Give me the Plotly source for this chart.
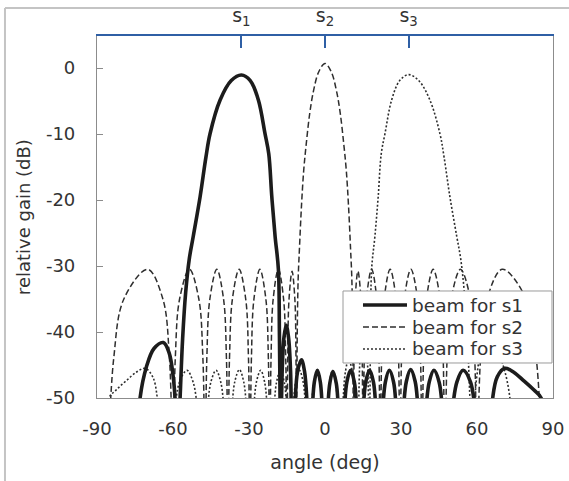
import plotly.graph_objects as go

# ---- data ----
x_ticks = [-90, -60, -30, 0, 30, 60, 90]
y_ticks = [0, -10, -20, -30, -40, -50]
steer_angles = [-33, 0, 33]
steer_labels = ["s<sub>1</sub>", "s<sub>2</sub>", "s<sub>3</sub>"]
series_names = ["beam for s1", "beam for s2", "beam for s3"]

s1_angle = [-74.5, -73.0, -70.5, -67.5, -63.8, -61.5, -60.0, -59.2, -58.3,
            -57.2, -56.2, -55.0, -53.6, -52.0, -49.3, -47.0, -45.4, -41.4, -37.0, -33.0,
            -29.5, -26.3, -23.7, -22.2, -21.0, -19.7, -18.4, -18.0, -17.75, -17.6,
            -16.9, -16.2, -15.3, -14.4, -13.6, -12.9,
            -11.86, -10.83, -9.3, -8.07, -7.04, -6.0,
            -5.11, -4.21, -3.0, -1.84, -0.94, -0.05,
            0.92, 1.89, 3.1, 4.46, 5.43, 6.4,
            7.51, 8.62, 10.1, 11.58, 12.69, 13.8,
            14.94, 16.08, 17.6, 19.12, 20.26, 21.4,
            22.62, 23.83, 25.4, 27.07, 28.28, 29.5,
            30.81, 32.11, 33.8, 35.59, 36.89, 38.2,
            39.67, 41.14, 43.0, 45.06, 46.53, 48.0,
            50.03, 52.05, 54.5, 57.45, 59.47, 61.5,
            64.8, 66.2, 68.0, 71.0, 74.5, 78.5, 82.5, 85.3, 86.8, 88.0]
s1_gain = [-60, -50, -45.3, -42.5, -41.6, -43.2, -46.5, -50, -60,
           -50, -41, -34, -29, -25.5, -19.5, -13.5, -10.0, -4.85, -1.9, -1.05,
           -1.9, -4.85, -9.9, -13.0, -19.5, -25.5, -30.5, -40, -50, -60,
           -45.9, -40.8, -39.0, -40.8, -45.9, -60,
           -51.1, -46.0, -44.2, -46.0, -51.1, -60,
           -52.7, -47.6, -45.8, -47.6, -52.7, -60,
           -52.9, -47.8, -46.0, -47.8, -52.9, -60,
           -52.7, -47.6, -45.8, -47.6, -52.7, -60,
           -52.7, -47.6, -45.8, -47.6, -52.7, -60,
           -52.7, -47.6, -45.8, -47.6, -52.7, -60,
           -52.6, -47.5, -45.7, -47.5, -52.6, -60,
           -52.7, -47.6, -45.8, -47.6, -52.7, -60,
           -52.7, -47.6, -45.8, -47.6, -52.7, -60,
           -60, -50, -46.8, -45.5, -46.1, -47.4, -48.8, -50, -55, -60]

s2_angle = [-85.6, -83.4, -79.4, -70.0, -64.0, -61.4, -60.0,
            -59.1, -57.4, -53.5, -49.8, -48.2, -47.3,
            -46.65, -45.45, -42.7, -40.05, -38.9, -38.3,
            -37.7, -36.55, -33.9, -31.3, -30.2, -29.6,
            -29.05, -28.05, -25.7, -23.35, -22.35, -21.8,
            -21.3, -20.45, -18.4, -16.35, -15.5, -15.0,
            -14.7, -14.2, -13.0, -11.9, -11.45, -11.2,
            -11.0, -10.6, -10.1, -9.3, -8.4, -7.4, -6.0, -4.5, -2.5, 0.0,
            2.5, 4.5, 6.0, 7.4, 8.4, 9.3, 10.1, 10.6, 11.0,
            11.2, 11.45, 11.9, 13.0, 14.2, 14.7, 15.0,
            15.5, 16.35, 18.4, 20.45, 21.3, 21.8,
            22.35, 23.35, 25.7, 28.05, 29.05, 29.6,
            30.2, 31.3, 33.9, 36.55, 37.7, 38.3,
            38.9, 40.05, 42.7, 45.45, 46.65, 47.3,
            48.2, 49.8, 53.5, 57.4, 59.1, 60.0,
            61.4, 64.0, 70.0, 79.4, 83.4, 85.6]
s2_gain = [-60, -44, -35, -30.5, -35, -44, -60,
           -44, -35, -30.5, -35, -44, -60,
           -44, -35, -30.5, -35, -44, -60,
           -44, -35, -30.5, -35, -44, -60,
           -44, -35, -30.5, -35, -44, -60,
           -44, -35, -30.5, -35, -44, -60,
           -44, -35, -30.8, -35, -44, -60,
           -42, -32, -27.5, -21, -15.5, -11.5, -6.8, -3.4, -0.6, 0.7,
           -0.6, -3.4, -6.8, -11.5, -15.5, -21, -27.5, -32, -42,
           -60, -44, -35, -30.8, -35, -44, -60,
           -44, -35, -30.5, -35, -44, -60,
           -44, -35, -30.5, -35, -44, -60,
           -44, -35, -30.5, -35, -44, -60,
           -44, -35, -30.5, -35, -44, -60,
           -44, -35, -30.5, -35, -44, -60,
           -44, -35, -30.5, -35, -44, -60]

s3_angle = [-88.0, -86.8, -85.3, -82.5, -78.5, -74.5, -71.0, -68.0, -66.2, -64.8,
            -61.5, -59.47, -57.45, -54.5, -52.05, -50.03, -48.0,
            -46.53, -45.06, -43.0, -41.14, -39.67, -38.2,
            -36.89, -35.59, -33.8, -32.11, -30.81, -29.5,
            -28.28, -27.07, -25.4, -23.83, -22.62, -21.4,
            -20.26, -19.12, -17.6, -16.08, -14.94, -13.8,
            -12.69, -11.58, -10.1, -8.62, -7.51, -6.4,
            -5.43, -4.46, -3.1, -1.89, -0.92, 0.05,
            0.94, 1.84, 3.0, 4.21, 5.11, 6.0,
            7.04, 8.07, 9.3, 10.83, 11.86, 12.9,
            13.6, 14.4, 15.3, 16.2, 16.9, 17.6,
            17.75, 18.0, 18.4, 19.7, 21.0, 22.2, 23.7, 26.3, 29.5,
            33.0, 37.0, 41.4, 45.4, 47.0, 49.3, 52.0, 53.6, 55.0, 56.2, 57.2,
            58.3, 59.2, 60.0, 61.5, 63.8, 67.5, 70.5, 73.0, 74.5]
s3_gain = [-60, -55, -50, -48.8, -47.4, -46.1, -45.5, -46.8, -50, -60,
           -60, -52.7, -47.6, -45.8, -47.6, -52.7, -60,
           -52.7, -47.6, -45.8, -47.6, -52.7, -60,
           -52.6, -47.5, -45.7, -47.5, -52.6, -60,
           -52.7, -47.6, -45.8, -47.6, -52.7, -60,
           -52.7, -47.6, -45.8, -47.6, -52.7, -60,
           -52.7, -47.6, -45.8, -47.6, -52.7, -60,
           -52.9, -47.8, -46.0, -47.8, -52.9, -60,
           -52.7, -47.6, -45.8, -47.6, -52.7, -60,
           -51.1, -46.0, -44.2, -46.0, -51.1, -60,
           -45.9, -40.8, -39.0, -40.8, -45.9, -60,
           -50, -40, -30.5, -25.5, -19.5, -13.0, -9.9, -4.85, -1.9,
           -1.0, -1.9, -4.85, -10.0, -13.5, -19.5, -25.5, -29, -34, -41, -50,
           -60, -50, -46.5, -43.2, -41.6, -42.5, -45.3, -50, -60]

# ---- styling ----
FONT = "DejaVu Sans"
TXT = "#333333"
AX = "#8c8c8c"
BLUE = "#2f5fa5"
line_styles = [
    dict(color="#1c1c1c", width=3.6),
    dict(color="#2e2e2e", width=1.5, dash="6px,3px"),
    dict(color="#2e2e2e", width=1.6, dash="2px,2px"),
]
series = [(s1_angle, s1_gain), (s2_angle, s2_gain), (s3_angle, s3_gain)]

fig = go.Figure()
# draw s3, s2 first so the thick s1 beam sits on top
for i in [2, 1, 0]:
    ang, gain = series[i]
    fig.add_trace(go.Scatter(x=ang, y=gain, mode="lines", name=series_names[i],
                             line=dict(**line_styles[i], shape="spline", smoothing=1.0),
                             showlegend=False, hoverinfo="skip"))
# invisible carrier so the top (steering-direction) axis is drawn
fig.add_trace(go.Scatter(x=steer_angles, y=[y_ticks[0]] * len(steer_angles), xaxis="x2", yaxis="y",
                         mode="markers", marker=dict(opacity=0), showlegend=False, hoverinfo="skip"))

# legend box drawn in paper coordinates (compact rows like the reference)
legend_box = dict(x0=0.5395, x1=0.9978, y0=0.0967, y1=0.2956)
row_y = [0.2569, 0.1961, 0.1354]
shapes = [
    dict(type="line", xref="paper", yref="paper", x0=-0.2018, x1=1.04, y0=1.0773, y1=1.0773,
         line=dict(color="#c4c4c4", width=2)),
    dict(type="line", xref="paper", yref="paper", x0=-0.2018, x1=-0.2018, y0=1.0773, y1=-0.24,
         line=dict(color="#c4c4c4", width=2)),
    dict(type="rect", xref="paper", yref="paper", **legend_box,
         fillcolor="white", line=dict(color="#9a9a9a", width=1), layer="above"),
]
annotations = []
for i, name in enumerate(series_names):
    shapes.append(dict(type="line", xref="paper", yref="paper", x0=0.5833, x1=0.6798,
                       y0=row_y[i], y1=row_y[i], line=line_styles[i], layer="above"))
    annotations.append(dict(text=name, xref="paper", yref="paper", x=0.6864, y=row_y[i],
                            xanchor="left", yanchor="middle", showarrow=False,
                            font=dict(family=FONT, size=18.5, color=TXT)))
# y-axis title placed like the reference
annotations.append(dict(text="relative gain (dB)", xref="paper", yref="paper", x=-0.162, y=0.5,
                        xanchor="center", yanchor="middle", textangle=-90, showarrow=False,
                        font=dict(family=FONT, size=18, color=TXT)))

fig.update_layout(
    width=569, height=481,
    margin=dict(l=97, r=16, t=36, b=83, autoexpand=False),
    paper_bgcolor="white", plot_bgcolor="white",
    font=dict(family=FONT, size=18, color=TXT),
    showlegend=False,
    xaxis=dict(range=[-90, 90], tickvals=x_ticks, ticktext=[str(v) for v in x_ticks],
               ticks="", showline=True,
               linecolor=AX, linewidth=1.2, mirror=False, showgrid=False, zeroline=False,
               tickfont=dict(family=FONT, size=18, color=TXT), ticklabelstandoff=14,
               title=dict(text="angle (deg)", font=dict(family=FONT, size=19, color=TXT), standoff=17)),
    xaxis2=dict(range=[-90, 90], overlaying="x", side="top", anchor="y",
                tickvals=steer_angles, ticktext=steer_labels,
                ticks="inside", ticklen=12, tickwidth=2, tickcolor=BLUE,
                showline=True, linecolor=BLUE, linewidth=2, showgrid=False, zeroline=False,
                tickfont=dict(family=FONT, size=19, color=TXT), ticklabelstandoff=4),
    yaxis=dict(range=[-50, 4.85], tickvals=y_ticks, ticktext=[str(v) for v in y_ticks],
               ticks="inside", ticklen=6,
               tickcolor=AX, showline=True, linecolor=AX, linewidth=1.2, mirror=True,
               showgrid=False, zeroline=False,
               tickfont=dict(family=FONT, size=18, color=TXT), ticklabelstandoff=17),
    shapes=shapes,
    annotations=annotations,
)

fig.write_html("out.html", config={"displayModeBar": False},
               post_script="document.body.style.margin='0px';")
